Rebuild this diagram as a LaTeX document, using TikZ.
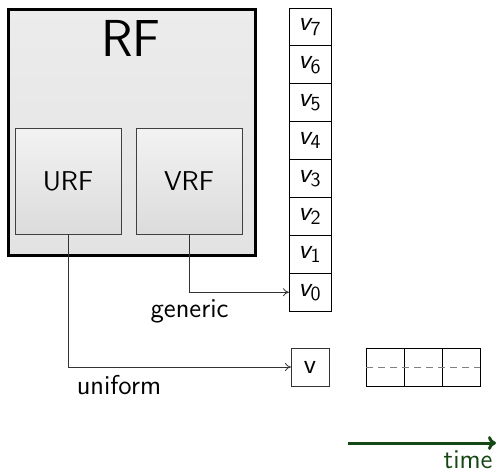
\documentclass[tikz,border=0pt]{standalone}
\usetikzlibrary{arrows.meta}
\definecolor{tgreen}{RGB}{22,72,22}
\newcommand{\vreg}[1]{{\slshape v}$_{\mathsf{#1}}$}
\begin{document}
\begin{tikzpicture}[x=0.5pt,y=-0.5pt,
  every node/.style={font=\sffamily\fontsize{13.6}{15}\selectfont, outer sep=0pt, inner sep=0pt},
  outerbox/.style={draw=black, line width=1.5pt, top color=gray!15, bottom color=gray!22, minimum width=123.5pt, minimum height=123pt},
  innerbox/.style={draw=black!75, line width=0.4pt, top color=gray!10, bottom color=gray!28, minimum width=53pt, minimum height=53pt},
  cell/.style={draw=black, line width=0.5pt, minimum width=21pt, minimum height=18.95pt},
  wire/.style={draw=black!80, line width=0.4pt, -{To[length=3pt,width=4pt]}}
]
\useasboundingbox (0,0) rectangle (497,473);
\node[outerbox] (rf) at (131.5,132) {};
\node[font=\sffamily\fontsize{26}{30}\selectfont] (rflabel) at (131,38) {RF};
\node[innerbox] (urf) at (68,181) {URF};
\node[innerbox] (vrf) at (189,181) {VRF};
\foreach \i in {0,...,7}{
  \node[cell] (v\i) at (310,{8+37.9*(7-\i)+18.95}) {\vreg{\i}};
}
\draw[wire] (vrf.south) |- (v0.west);
\node (generic) at (189.5,311) {generic};
\node[cell, minimum width=19pt, minimum height=19pt, draw=black!80] (v) at (310,367) {v};
\draw[wire] (urf.south) |- (v.west);
\node (uniform) at (119,385) {uniform};
\node[cell, minimum width=19pt, minimum height=19pt] (c1) at (385,367) {};
\node[cell, minimum width=19pt, minimum height=19pt] (c2) at (423,367) {};
\node[cell, minimum width=19pt, minimum height=19pt] (c3) at (461,367) {};
\draw[gray, line width=0.4pt, dash pattern=on 3.5pt off 2.5pt] (c1.west) -- (c3.east);
\coordinate (t0) at (348,443);
\coordinate (t1) at (496,443);
\draw[tgreen, line width=1.5pt, -{To[length=4pt,width=7pt]}] (t0) -- (t1);
\node[text=tgreen] (time) at (468,460) {time};
\end{tikzpicture}
\end{document}
